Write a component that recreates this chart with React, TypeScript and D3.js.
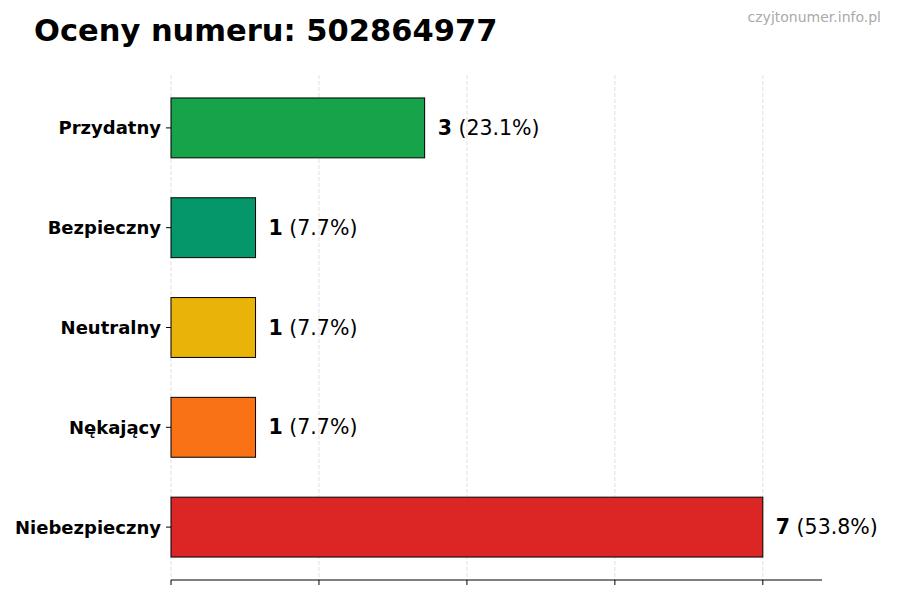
import React from "react";
import * as d3 from "d3";

const categories = ["Przydatny", "Bezpieczny", "Neutralny", "Nękający", "Niebezpieczny"];
const counts = [3, 1, 1, 1, 7];
const percents = ["23.1%", "7.7%", "7.7%", "7.7%", "53.8%"];
const colors = ["#16a34a", "#059669", "#eab308", "#f97316", "#dc2626"];
const xTicks = [0, 1.75, 3.5, 5.25, 7];
const title = "Oceny numeru: 502864977";
const watermark = "czyjtonumer.info.pl";

const W = 900;
const H = 600;
const left = 171;
const right = 822;
const top = 75;
const bottom = 580;
const font = "'DejaVu Sans', sans-serif";

export default function App() {
  const maxV = d3.max(counts) as number;
  const x = d3.scaleLinear().domain([0, maxV * 1.1]).range([left, right]);
  const y = d3
    .scaleBand<string>()
    .domain(categories)
    .range([top, bottom])
    .paddingInner(0.4)
    .paddingOuter(0.23);

  return (
    <svg
      width={W}
      height={H}
      style={{ position: "absolute", left: 0, top: 0, background: "#fff" }}
      fontFamily={font}
    >
      <rect x={0} y={0} width={W} height={H} fill="#fff" />
      {xTicks.map((t, i) => (
        <g key={i}>
          <line
            x1={x(t)}
            x2={x(t)}
            y1={top}
            y2={bottom}
            stroke="#d8d8d8"
            strokeWidth={0.8}
            strokeDasharray="4,2"
          />
          <line x1={x(t)} x2={x(t)} y1={bottom} y2={bottom + 5} stroke="#000" strokeWidth={1} />
        </g>
      ))}
      {categories.map((c, i) => {
        const yy = y(c) as number;
        const bh = y.bandwidth();
        const cy = yy + bh / 2;
        return (
          <g key={c}>
            <rect
              x={x(0)}
              y={yy}
              width={x(counts[i]) - x(0)}
              height={bh}
              fill={colors[i]}
              stroke="#000"
              strokeWidth={1}
            />
            <line x1={left - 5} x2={left} y1={cy} y2={cy} stroke="#000" strokeWidth={1} />
            <text
              x={left - 10}
              y={cy}
              textAnchor="end"
              dominantBaseline="central"
              fontWeight="bold"
              fontSize={18}
              fill="#000"
            >
              {c}
            </text>
            <text x={x(counts[i]) + 13} y={cy} dominantBaseline="central" fontSize={20.5} fill="#000">
              <tspan fontWeight="bold">{counts[i]}</tspan>
              <tspan>{` (${percents[i]})`}</tspan>
            </text>
          </g>
        );
      })}
      <line x1={left} x2={right} y1={bottom} y2={bottom} stroke="#000" strokeWidth={1} />
      <text x={34} y={41} fontSize={30.5} fontWeight="bold" fill="#000">
        {title}
      </text>
      <text x={881} y={22} textAnchor="end" fontSize={14} fill="#aaaaaa">
        {watermark}
      </text>
    </svg>
  );
}
